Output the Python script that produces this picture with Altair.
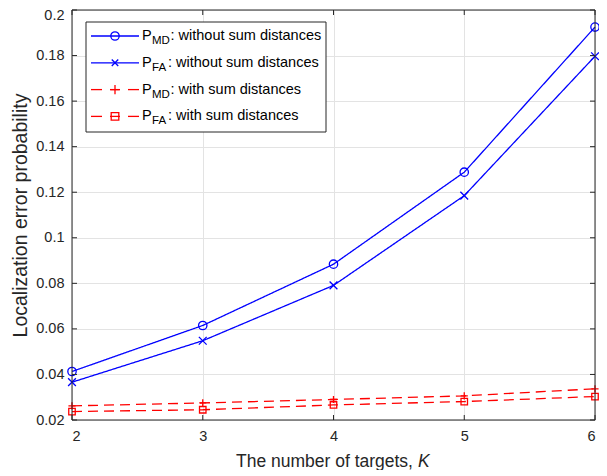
import altair as alt
import pandas as pd

# ---------------- data ----------------
K = [2, 3, 4, 5, 6]
pmd_without = [0.0413, 0.0615, 0.0884, 0.1288, 0.1925]
pfa_without = [0.0366, 0.0548, 0.0791, 0.1185, 0.1797]
pmd_with = [0.0262, 0.0275, 0.0290, 0.0306, 0.0337]
pfa_with = [0.0237, 0.0245, 0.0266, 0.0281, 0.0303]

series_names = ["PMD without", "PFA without", "PMD with", "PFA with"]
series_sub = ["MD", "FA", "MD", "FA"]
series_rest = [": without sum distances", ": without sum distances",
               ": with sum distances", ": with sum distances"]
y_ticks = [0.02, 0.04, 0.06, 0.08, 0.1, 0.12, 0.14, 0.16, 0.18, 0.2]
x_ticks = [2, 3, 4, 5, 6]

# ---------------- styles ----------------
FONT = "Liberation Sans"
W, H = 523, 410
BLUE, RED = "#0000ff", "#ff0000"
AX = "#262626"
GRID = "#e3e3e3"
X_PATH = "M-1,-1L1,1M-1,1L1,-1"
PLUS_PATH = "M-1,0L1,0M0,-1L0,1"
colors = [BLUE, BLUE, RED, RED]
dashes = [[1, 0], [1, 0], [10, 6], [10, 6]]
shapes = ["circle", X_PATH, PLUS_PATH, "square"]
sizes = [70, 42, 85, 58]
TICK_FS = 14.5
XTITLE_FS = 17.5
YTITLE_FS = 19.5

rows = []
for name, vals in zip(series_names, [pmd_without, pfa_without, pmd_with, pfa_with]):
    for k, v in zip(K, vals):
        rows.append({"K": k, "value": v, "series": name})
df = pd.DataFrame(rows)

xscale = alt.Scale(domain=[2, 6], nice=False, zero=False)
yscale = alt.Scale(domain=[0.02, 0.2], nice=False, zero=False)

xaxis = alt.Axis(values=x_ticks, format="d", title=None, ticks=False, domain=False,
                 grid=True, gridColor=GRID, gridWidth=1, labelFont=FONT,
                 labelFontSize=TICK_FS, labelColor=AX, labelPadding=9)
yaxis = alt.Axis(values=y_ticks, format=".2~f", title="Localization error probability",
                 ticks=False, domain=False, grid=True, gridColor=GRID, gridWidth=1,
                 labelFont=FONT, labelFontSize=TICK_FS, labelColor=AX, labelPadding=8,
                 labelOffset={"condition": {"test": "datum.value >= 0.199", "value": 5}, "value": 0},
                 titleFont=FONT, titleFontSize=YTITLE_FS, titleFontWeight="normal",
                 titleColor=AX, titleX=-46, titleY=H / 2, titleAngle=-90,
                 titleAlign="center", titleBaseline="alphabetic")

base = alt.Chart(df)
lines = base.mark_line(strokeWidth=1.3).encode(
    x=alt.X("K:Q", scale=xscale, axis=xaxis),
    y=alt.Y("value:Q", scale=yscale, axis=yaxis),
    color=alt.Color("series:N", scale=alt.Scale(domain=series_names, range=colors), legend=None),
    strokeDash=alt.StrokeDash("series:N", scale=alt.Scale(domain=series_names, range=dashes), legend=None),
    detail="series:N",
)
points = base.mark_point(filled=False, strokeWidth=1.3, opacity=1).encode(
    x=alt.X("K:Q", scale=xscale),
    y=alt.Y("value:Q", scale=yscale),
    color=alt.Color("series:N", scale=alt.Scale(domain=series_names, range=colors), legend=None),
    shape=alt.Shape("series:N", scale=alt.Scale(domain=series_names, range=shapes), legend=None),
    size=alt.Size("series:N", scale=alt.Scale(domain=series_names, range=sizes), legend=None),
)

# ---- frame and inward ticks ----
one = pd.DataFrame({"a": [0]})
frame = alt.layer(
    alt.Chart(one).mark_rule(color=AX, strokeWidth=1).encode(
        x=alt.value(0), x2=alt.value(W), y=alt.value(0)),
    alt.Chart(one).mark_rule(color=AX, strokeWidth=1).encode(
        x=alt.value(0), x2=alt.value(W), y=alt.value(H)),
    alt.Chart(one).mark_rule(color=AX, strokeWidth=1).encode(
        x=alt.value(0), y=alt.value(0), y2=alt.value(H)),
    alt.Chart(one).mark_rule(color=AX, strokeWidth=1).encode(
        x=alt.value(W), y=alt.value(0), y2=alt.value(H)),
)
ytk = pd.DataFrame({"v": y_ticks})
xtk = pd.DataFrame({"v": x_ticks})
TL = 5
ticks = alt.layer(
    alt.Chart(ytk).mark_rule(color=AX, strokeWidth=1).encode(
        y=alt.Y("v:Q", scale=yscale), x=alt.value(0), x2=alt.value(TL)),
    alt.Chart(ytk).mark_rule(color=AX, strokeWidth=1).encode(
        y=alt.Y("v:Q", scale=yscale), x=alt.value(W - TL), x2=alt.value(W)),
    alt.Chart(xtk).mark_rule(color=AX, strokeWidth=1).encode(
        x=alt.X("v:Q", scale=xscale), y=alt.value(H - TL), y2=alt.value(H)),
    alt.Chart(xtk).mark_rule(color=AX, strokeWidth=1).encode(
        x=alt.X("v:Q", scale=xscale), y=alt.value(0), y2=alt.value(TL)),
)

# ---- custom legend (subscripts need separate text pieces) ----
LX0, LX1, LY0, LY1 = 14, 254, 12, 122
ROW0, ROWD = 26, 26.8
leg = pd.DataFrame({
    "series": series_names,
    "sub": series_sub,
    "rest": series_rest,
    "col": colors,
    "shape": shapes,
    "size": sizes,
})
leg["ly"] = [ROW0 + ROWD * i for i in range(4)]
leg["ly_sub"] = leg["ly"] + 5
leg["restx"] = [98.5 if s == "MD" else 96 for s in series_sub]
seg = []
for i, name in enumerate(series_names):
    ly = ROW0 + ROWD * i
    if colors[i] == BLUE:
        seg.append({"x1": 19, "x2": 67, "ly": ly, "col": colors[i]})
    else:
        seg.append({"x1": 19, "x2": 30, "ly": ly, "col": colors[i]})
        seg.append({"x1": 56, "x2": 67, "ly": ly, "col": colors[i]})
        seg.append({"x1": 38, "x2": 48, "ly": ly, "col": colors[i]})
segdf = pd.DataFrame(seg)

legbox = alt.Chart(one).mark_rect(fill="white", stroke=AX, strokeWidth=1).encode(
    x=alt.value(LX0), x2=alt.value(LX1), y=alt.value(LY0), y2=alt.value(LY1))
legsegs = alt.Chart(segdf).mark_rule(strokeWidth=1.3).encode(
    x=alt.X("x1:Q", scale=None), x2="x2:Q", y=alt.Y("ly:Q", scale=None),
    color=alt.Color("col:N", scale=None))
legpts = alt.Chart(leg).mark_point(filled=False, strokeWidth=1.3, opacity=1).encode(
    x=alt.value(43), y=alt.Y("ly:Q", scale=None),
    color=alt.Color("col:N", scale=None),
    shape=alt.Shape("shape:N", scale=None),
    size=alt.Size("size:Q", scale=None))
legP = alt.Chart(leg).mark_text(text="P", align="left", baseline="middle", font=FONT,
                                fontSize=TICK_FS, color="black").encode(
    x=alt.value(70), y=alt.Y("ly:Q", scale=None))
legSub = alt.Chart(leg).mark_text(align="left", baseline="middle", font=FONT,
                                  fontSize=11.5, color="black").encode(
    x=alt.value(80), y=alt.Y("ly_sub:Q", scale=None), text="sub:N")
legRest = alt.Chart(leg).mark_text(align="left", baseline="middle", font=FONT,
                                   fontSize=TICK_FS, color="black").encode(
    x=alt.X("restx:Q", scale=None), y=alt.Y("ly:Q", scale=None), text="rest:N")

# ---- x-axis title with italic K ----
SPLIT = 341
xt1 = alt.Chart(one).mark_text(text="The number of targets,", align="right",
                               baseline="alphabetic", font=FONT, fontSize=XTITLE_FS,
                               color=AX).encode(x=alt.value(SPLIT), y=alt.value(H + 47))
xt2 = alt.Chart(one).mark_text(text="K", align="left", baseline="alphabetic", font=FONT,
                               fontSize=XTITLE_FS, fontStyle="italic",
                               color=AX).encode(x=alt.value(SPLIT + 5), y=alt.value(H + 47))

chart = alt.layer(
    lines, points, frame, ticks, legbox, legsegs, legpts, legP, legSub, legRest, xt1, xt2
).properties(
    width=W, height=H,
    padding={"left": 64, "top": 2, "right": 4, "bottom": 50},
    autosize=alt.AutoSizeParams(type="none"),
).configure_view(stroke=None).configure(background="white")

chart.save("out.html", embed_options={"renderer": "svg", "actions": False})
